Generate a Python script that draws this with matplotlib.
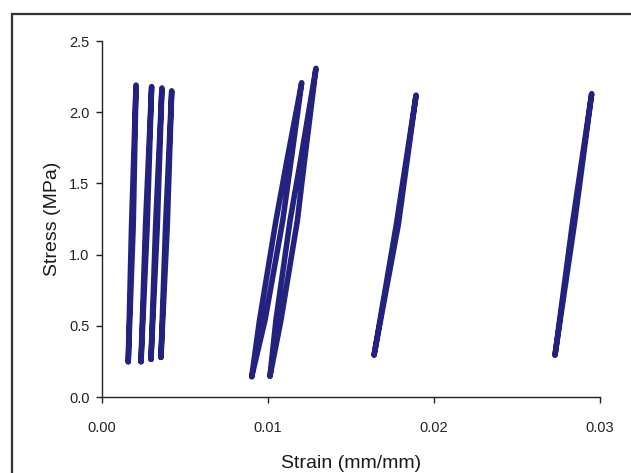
import matplotlib.pyplot as plt
from matplotlib.patches import Rectangle
from matplotlib.ticker import FormatStrFormatter

plt.rcParams['font.family'] = ['Liberation Sans', 'DejaVu Sans']

# hysteresis loops: bottom -> loading branch -> top -> unloading branch -> bottom
loop_strain = [
    [0.00158, 0.00188, 0.00205, 0.00178, 0.00158],
    [0.00235, 0.00272, 0.00299, 0.00262, 0.00235],
    [0.00295, 0.00333, 0.00361, 0.00323, 0.00295],
    [0.00355, 0.00393, 0.00420, 0.00383, 0.00355],
    [0.00902, 0.00982, 0.01089, 0.01139, 0.01203, 0.01114, 0.01048, 0.00949, 0.00902],
    [0.01012, 0.01078, 0.01177, 0.01220, 0.01289, 0.01196, 0.01133, 0.01048, 0.01012],
    [0.01639, 0.01785, 0.01892, 0.01773, 0.01639],
    [0.02729, 0.02845, 0.02950, 0.02833, 0.02729],
]
loop_stress = [
    [0.248, 1.20, 2.19, 1.20, 0.248],
    [0.248, 1.20, 2.18, 1.20, 0.248],
    [0.265, 1.20, 2.17, 1.20, 0.265],
    [0.279, 1.20, 2.15, 1.20, 0.279],
    [0.143, 0.54, 1.24, 1.66, 2.207, 1.66, 1.24, 0.54, 0.143],
    [0.147, 0.54, 1.24, 1.66, 2.308, 1.66, 1.24, 0.54, 0.147],
    [0.295, 1.21, 2.12, 1.21, 0.295],
    [0.295, 1.21, 2.13, 1.21, 0.295],
]

x_ticks = [0.00, 0.01, 0.02, 0.03]
y_ticks = [0.0, 0.5, 1.0, 1.5, 2.0, 2.5]

navy = '#23237f'

fig = plt.figure(figsize=(6.31, 4.73), dpi=100, facecolor='white')

# outer frame around the plot
fig.patches.append(Rectangle((12 / 631, -0.2), 1.2, 1.2 - 14 / 473,
                             transform=fig.transFigure, fill=False,
                             edgecolor='#333333', linewidth=1.6))

ax = fig.add_axes([102 / 631, 76 / 473, 498 / 631, 356 / 473])

for xs, ys in zip(loop_strain, loop_stress):
    ax.plot(xs, ys, color=navy, linewidth=4.0, solid_joinstyle='round',
            solid_capstyle='round')

ax.set_xlim(0, 0.03)
ax.set_ylim(0, 2.5)
ax.set_xticks(x_ticks)
ax.set_yticks(y_ticks)
ax.xaxis.set_major_formatter(FormatStrFormatter('%.2f'))
ax.yaxis.set_major_formatter(FormatStrFormatter('%.1f'))

for side in ('top', 'right'):
    ax.spines[side].set_visible(False)
for side in ('left', 'bottom'):
    ax.spines[side].set_color('#222222')
    ax.spines[side].set_linewidth(1.0)

ax.tick_params(axis='x', direction='out', length=4.5, width=1.0, pad=13,
               labelsize=10.5, colors='#222222')
ax.tick_params(axis='y', direction='out', length=4, width=1.0, pad=5,
               labelsize=10.5, colors='#222222')

ax.set_xlabel('Strain (mm/mm)', fontsize=14, color='#1a1a1a', labelpad=14)
ax.set_ylabel('Stress (MPa)', fontsize=14, color='#1a1a1a', labelpad=6)

fig.savefig('out.png', dpi=100, facecolor='white')
